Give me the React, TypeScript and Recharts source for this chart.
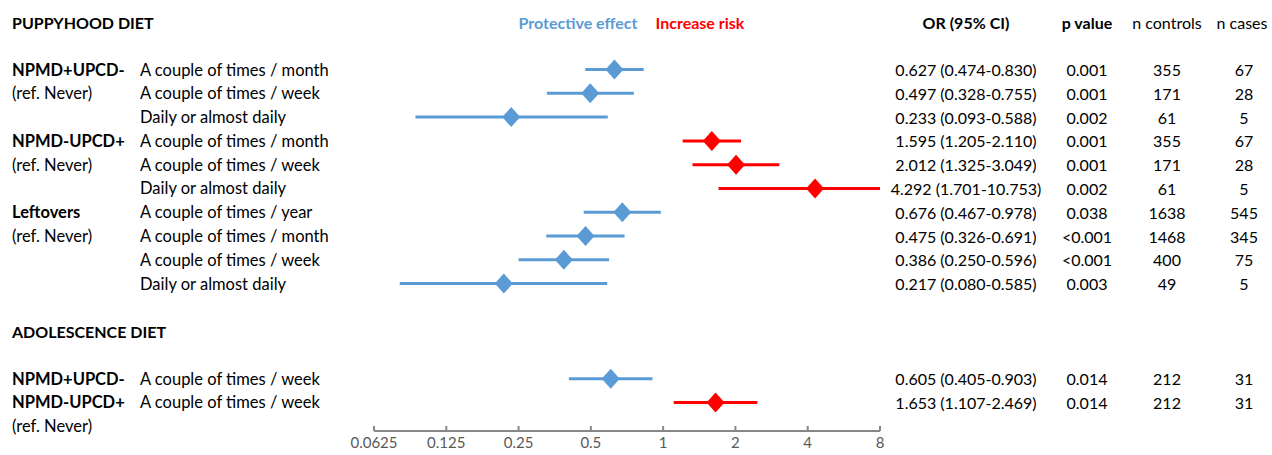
import { ScatterChart, Scatter, XAxis, YAxis, ErrorBar } from 'recharts'

const BLUE = '#5B9BD5'
const RED = '#FF0000'
const FONT = 'Lato, "Open Sans", sans-serif'

// row of each estimate, counted from the top header row (0)
const rowIndex = [2, 3, 4, 5, 6, 7, 8, 9, 10, 11, 15, 16]
const frequencies = [
  'A couple of times / month',
  'A couple of times / week',
  'Daily or almost daily',
  'A couple of times / month',
  'A couple of times / week',
  'Daily or almost daily',
  'A couple of times / year',
  'A couple of times / month',
  'A couple of times / week',
  'Daily or almost daily',
  'A couple of times / week',
  'A couple of times / week',
]
const oddsRatios = [0.627, 0.497, 0.233, 1.595, 2.012, 4.292, 0.676, 0.475, 0.386, 0.217, 0.605, 1.653]
const ciLow = [0.474, 0.328, 0.093, 1.205, 1.325, 1.701, 0.467, 0.326, 0.25, 0.08, 0.405, 1.107]
const ciHigh = [0.83, 0.755, 0.588, 2.11, 3.049, 10.753, 0.978, 0.691, 0.596, 0.585, 0.903, 2.469]
const pValues = ['0.001', '0.001', '0.002', '0.001', '0.001', '0.002', '0.038', '<0.001', '<0.001', '0.003', '0.014', '0.014']
const nControls = [355, 171, 61, 355, 171, 61, 1638, 1468, 400, 49, 212, 212]
const nCases = [67, 28, 5, 67, 28, 5, 545, 345, 75, 5, 31, 31]

const groupRows = [2, 3, 5, 6, 8, 9, 15, 16, 17]
const groupLabels = [
  'NPMD+UPCD-', '(ref. Never)',
  'NPMD-UPCD+', '(ref. Never)',
  'Leftovers', '(ref. Never)',
  'NPMD+UPCD-', 'NPMD-UPCD+', '(ref. Never)',
]
const sectionRows = [0, 13]
const sectionTitles = ['PUPPYHOOD DIET', 'ADOLESCENCE DIET']
const legendLabels = ['Protective effect', 'Increase risk']
const columnHeaders = ['OR (95% CI)', 'p value', 'n controls', 'n cases']
const xTicks = [0.0625, 0.125, 0.25, 0.5, 1, 2, 4, 8]

const xMax = xTicks[xTicks.length - 1]

const estimates = rowIndex.map((row, i) => {
  const hi = Math.min(ciHigh[i], xMax)
  return { x: oddsRatios[i], y: row, err: [oddsRatios[i] - ciLow[i], hi - oddsRatios[i]] }
})
const protective = estimates.filter((d) => d.x < 1)
const risk = estimates.filter((d) => d.x >= 1)

type TableRow = {
  x: number
  y: number
  section?: string
  group?: string
  freq?: string
  or?: string
  p?: string
  nc?: string
  ncase?: string
  header?: boolean
}

const tableMap = new Map<number, TableRow>()
const rowOf = (r: number) => {
  if (!tableMap.has(r)) tableMap.set(r, { x: 1, y: r })
  return tableMap.get(r) as TableRow
}
sectionRows.forEach((r, i) => { rowOf(r).section = sectionTitles[i] })
rowOf(0).header = true
groupRows.forEach((r, i) => { rowOf(r).group = groupLabels[i] })
rowIndex.forEach((r, i) => {
  const t = rowOf(r)
  t.freq = frequencies[i]
  t.or = `${oddsRatios[i].toFixed(3)} (${ciLow[i].toFixed(3)}-${ciHigh[i].toFixed(3)})`
  t.p = pValues[i]
  t.nc = String(nControls[i])
  t.ncase = String(nCases[i])
})
const tableRows = Array.from(tableMap.values())

const txt = (
  x: number,
  y: number,
  s: string,
  opts: { anchor?: string; bold?: boolean; fill?: string; size?: number } = {},
) => (
  <text
    key={`${x}-${s}`}
    x={x}
    y={y}
    textAnchor={opts.anchor || 'start'}
    dominantBaseline="central"
    fontFamily={FONT}
    fontSize={opts.size || 16}
    fontWeight={opts.bold ? 700 : 400}
    fill={opts.fill || '#000'}
  >
    {s}
  </text>
)

const TableText = (props: any) => {
  const { cy, payload } = props
  const r = payload as TableRow
  const out = []
  if (r.section) out.push(txt(12, cy, r.section, { bold: true }))
  if (r.header) {
    out.push(txt(578, cy, legendLabels[0], { anchor: 'middle', bold: true, fill: BLUE }))
    out.push(txt(700, cy, legendLabels[1], { anchor: 'middle', bold: true, fill: RED }))
    out.push(txt(966, cy, columnHeaders[0], { anchor: 'middle', bold: true }))
    out.push(txt(1087, cy, columnHeaders[1], { anchor: 'middle', bold: true }))
    out.push(txt(1167, cy, columnHeaders[2], { anchor: 'middle' }))
    out.push(txt(1242, cy, columnHeaders[3], { anchor: 'middle' }))
  }
  if (r.group) out.push(txt(12, cy, r.group, { bold: !r.group.startsWith('('), size: 16.5 }))
  if (r.freq) out.push(txt(140, cy, r.freq, { size: 16.5 }))
  if (r.or) out.push(txt(966, cy, r.or, { anchor: 'middle' }))
  if (r.p) out.push(txt(1087, cy, r.p, { anchor: 'middle' }))
  if (r.nc) out.push(txt(1167, cy, r.nc, { anchor: 'middle' }))
  if (r.ncase) out.push(txt(1244, cy, r.ncase, { anchor: 'middle' }))
  return <g>{out}</g>
}

const Diamond = ({ cx, cy, fill }: any) => (
  <path d={`M${cx},${cy - 10}L${cx + 9},${cy}L${cx},${cy + 10}L${cx - 9},${cy}Z`} fill={fill} />
)

const AxisTick = ({ x, y, payload }: any) => (
  <g>
    <line x1={x} x2={x} y1={y} y2={y - 5} stroke="#878787" strokeWidth={2} />
    <text x={x} y={y + 17} textAnchor="middle" fill="#595959" fontSize={15} fontFamily={FONT}>
      {payload.value}
    </text>
  </g>
)

export default function App() {
  return (
    <div style={{ position: 'absolute', left: 0, top: 0, background: '#fff' }}>
      <ScatterChart width={1272} height={455} margin={{ top: 22, right: 392, bottom: 0, left: 374 }}>
        <XAxis
          type="number"
          dataKey="x"
          scale="log"
          domain={[xTicks[0], xMax]}
          ticks={xTicks}
          interval={0}
          height={24}
          tickSize={0}
          tickMargin={0}
          tickLine={false}
          axisLine={{ stroke: '#878787', strokeWidth: 2 }}
          tick={<AxisTick />}
        />
        <YAxis type="number" dataKey="y" domain={[0, 17.2]} reversed hide />
        <Scatter data={tableRows} shape={<TableText />} isAnimationActive={false} />
        <Scatter data={protective} fill={BLUE} shape={<Diamond />} isAnimationActive={false}>
          <ErrorBar dataKey="err" direction="x" width={0} stroke={BLUE} strokeWidth={3} />
        </Scatter>
        <Scatter data={risk} fill={RED} shape={<Diamond />} isAnimationActive={false}>
          <ErrorBar dataKey="err" direction="x" width={0} stroke={RED} strokeWidth={3} />
        </Scatter>
      </ScatterChart>
    </div>
  )
}
